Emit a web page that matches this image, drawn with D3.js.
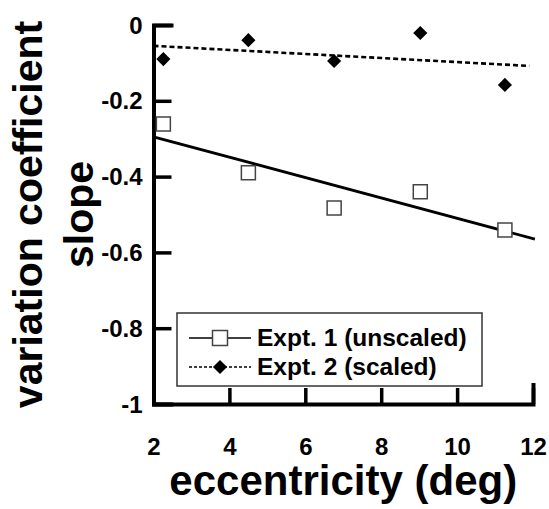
<!DOCTYPE html>
<html>
<head>
<meta charset="utf-8">
<script src="https://cdn.jsdelivr.net/npm/d3@7"></script>
<style>
  html, body { margin: 0; padding: 0; background: #fff; }
  svg text { font-family: "Liberation Sans", Arial, Helvetica, sans-serif; font-weight: bold; fill: #000; }
</style>
</head>
<body>
<div id="chart"></div>
<script>
// eccentricity (deg) of each measurement
const eccentricity = [2.26, 4.5, 6.76, 9.03, 11.26];
// Expt. 1 (unscaled) variation coefficient slopes
const expt1 = [-0.261, -0.39, -0.483, -0.44, -0.541];
// Expt. 2 (scaled) variation coefficient slopes
const expt2 = [-0.09, -0.04, -0.095, -0.021, -0.158];

// regression line end points
const fit1X = [2, 12.05];
const fit1Y = [-0.295, -0.565];
const fit2X = [2, 11.9];
const fit2Y = [-0.055, -0.108];

const xTicks = [2, 4, 6, 8, 10, 12];
const yTicks = [0, -0.2, -0.4, -0.6, -0.8, -1];
const legendLabels = ['Expt. 1 (unscaled)', 'Expt. 2 (scaled)'];

const width = 549;
const height = 509;

const svg = d3.select('#chart')
  .append('svg')
  .attr('width', width)
  .attr('height', height);

const x = d3.scaleLinear().domain([2, 12]).range([153.5, 533]);
const y = d3.scaleLinear().domain([-1, 0]).range([404, 25]);

// axes, ticks point inwards
const xAxis = d3.axisBottom(x)
  .tickValues(xTicks)
  .tickFormat(d3.format('d'))
  .tickSizeInner(-16)
  .tickSizeOuter(-19)
  .tickPadding(34);

const yAxis = d3.axisLeft(y)
  .tickValues(yTicks)
  .tickFormat(d => d === 0 ? '0' : d === -1 ? '-1' : d3.format('.1f')(d).replace('−', '-'))
  .tickSizeInner(-18)
  .tickSizeOuter(-18)
  .tickPadding(11);

const gx = svg.append('g')
  .attr('transform', `translate(0,${y(-1)})`)
  .call(xAxis);

const gy = svg.append('g')
  .attr('transform', `translate(${x(2)},0)`)
  .call(yAxis);

[gx, gy].forEach(g => {
  g.select('.domain').attr('stroke', '#000').attr('stroke-width', 4).attr('stroke-linecap', 'square');
  g.selectAll('.tick line').attr('stroke', '#000').attr('stroke-width', 3.5);
  g.selectAll('.tick text').style('font-size', '24px');
});
gy.selectAll('.tick text').attr('dy', '0.34em');

// axis titles
svg.append('text')
  .attr('x', (x(2) + x(12)) / 2)
  .attr('y', 495)
  .attr('text-anchor', 'middle')
  .style('font-size', '42px')
  .text('eccentricity (deg)');

const yMid = (y(0) + y(-1)) / 2;
svg.append('text')
  .attr('transform', `translate(42,${yMid}) rotate(-90)`)
  .attr('text-anchor', 'middle')
  .style('font-size', '41px')
  .text('variation coefficient');
svg.append('text')
  .attr('transform', `translate(93,${yMid}) rotate(-90)`)
  .attr('text-anchor', 'middle')
  .style('font-size', '41px')
  .text('slope');

// fit lines
const line = d3.line().x(d => x(d[0])).y(d => y(d[1]));

svg.append('path')
  .datum(d3.zip(fit1X, fit1Y))
  .attr('d', line)
  .attr('fill', 'none')
  .attr('stroke', '#000')
  .attr('stroke-width', 2.8);

svg.append('path')
  .datum(d3.zip(fit2X, fit2Y))
  .attr('d', line)
  .attr('fill', 'none')
  .attr('stroke', '#000')
  .attr('stroke-width', 2.6)
  .attr('stroke-dasharray', '5,3');

// markers
const square = d3.symbol().type(d3.symbolSquare).size(14 * 14);
const diamond = d3.symbol().type(d3.symbolSquare).size(10 * 10);

svg.append('g')
  .selectAll('path')
  .data(d3.zip(eccentricity, expt1))
  .join('path')
  .attr('transform', d => `translate(${x(d[0])},${y(d[1])})`)
  .attr('d', square)
  .attr('fill', '#fff')
  .attr('stroke', '#444')
  .attr('stroke-width', 1.5);

svg.append('g')
  .selectAll('path')
  .data(d3.zip(eccentricity, expt2))
  .join('path')
  .attr('transform', d => `translate(${x(d[0])},${y(d[1])}) rotate(45)`)
  .attr('d', diamond)
  .attr('fill', '#000');

// legend
const legend = svg.append('g').attr('transform', 'translate(177,313)');
legend.append('rect')
  .attr('width', 305)
  .attr('height', 73)
  .attr('fill', '#fff')
  .attr('stroke', '#333')
  .attr('stroke-width', 1.5);

const rows = [25, 54];
legendLabels.forEach((label, i) => {
  const g = legend.append('g').attr('transform', `translate(0,${rows[i]})`);
  g.append('line')
    .attr('x1', 12).attr('x2', 74)
    .attr('stroke', '#000')
    .attr('stroke-width', 1.6)
    .attr('stroke-dasharray', i === 0 ? null : '3,2');
  if (i === 0) {
    g.append('path')
      .attr('transform', 'translate(43,0)')
      .attr('d', d3.symbol().type(d3.symbolSquare).size(15 * 15))
      .attr('fill', '#fff')
      .attr('stroke', '#444')
      .attr('stroke-width', 1.5);
  } else {
    g.append('path')
      .attr('transform', 'translate(43,0) rotate(45)')
      .attr('d', d3.symbol().type(d3.symbolSquare).size(10 * 10))
      .attr('fill', '#000');
  }
  g.append('text')
    .attr('x', 80)
    .attr('y', 8)
    .style('font-size', '24.5px')
    .text(label);
});
</script>
</body>
</html>
